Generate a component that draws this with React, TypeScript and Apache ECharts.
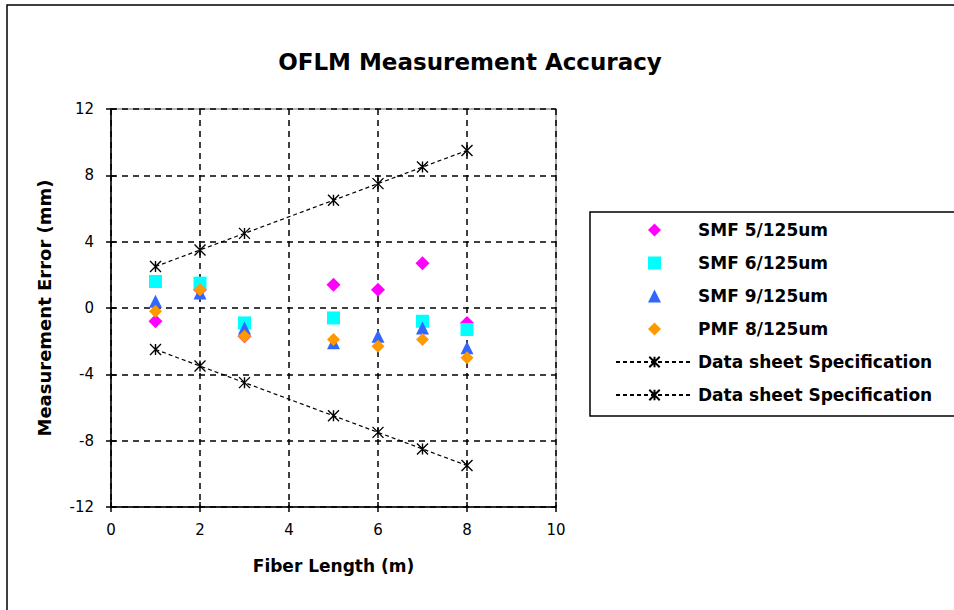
import React, { useEffect, useRef } from "react";
import * as echarts from "echarts";

const lengths = [1, 2, 3, 5, 6, 7, 8];
const smf5 = [-0.8, 1.1, -1.7, 1.4, 1.1, 2.7, -0.9];
const smf6 = [1.6, 1.5, -0.9, -0.6, null, -0.8, -1.3];
const smf9 = [0.4, 0.9, -1.2, -2.1, -1.7, -1.2, -2.4];
const pmf8 = [-0.2, 1.1, -1.7, -1.9, -2.3, -1.9, -3.0];
const specUpper = [2.5, 3.5, 4.5, 6.5, 7.5, 8.5, 9.5];
const specLower = [-2.5, -3.5, -4.5, -6.5, -7.5, -8.5, -9.5];
const specLabel = "Data sheet Specification";
const seriesNames = ["SMF 5/125um", "SMF 6/125um", "SMF 9/125um", "PMF 8/125um", "spec-upper", "spec-lower"];
const xTicks = { min: 0, max: 10, interval: 2 };
const yTicks = { min: -12, max: 12, interval: 4 };

const FONT = "DejaVu Sans";
const STAR = "path://M0 0L10 10M10 0L0 10M5 0L5 10";
const DIAMOND = "path://M5 0L10 5L5 10L0 5Z";
const SQUARE = "path://M0 0L10 0L10 10L0 10Z";
const TRIANGLE = "path://M5 0L10 10L0 10Z";

function pairs(ys: (number | null)[]) {
  return lengths.map((x, i) => (ys[i] == null ? null : [x, ys[i]])).filter((p) => p !== null);
}

export default function App() {
  const ref = useRef<HTMLDivElement>(null);
  useEffect(() => {
    document.body.style.margin = "0";
    const chart = echarts.init(ref.current!, null, { renderer: "svg" });
    const scatter = (name: string, ys: (number | null)[], symbol: string, size: number, color: string) => ({
      name,
      type: "scatter",
      data: pairs(ys),
      symbol,
      symbolSize: size,
      symbolKeepAspect: true,
      itemStyle: { color, opacity: 1 },
      z: 3,
    });
    const spec = (name: string, ys: number[]) => ({
      name,
      type: "line",
      data: pairs(ys),
      symbol: STAR,
      symbolSize: 11,
      showSymbol: true,
      itemStyle: { color: "none", borderColor: "#000", borderWidth: 1.4 },
      lineStyle: { color: "#000", width: 1.2, type: [4, 3] },
      z: 2,
    });
    chart.setOption({
      animation: false,
      backgroundColor: "#fff",
      title: {
        text: "OFLM Measurement Accuracy",
        left: 465,
        top: 45,
        textAlign: "center",
        textStyle: { fontFamily: FONT, fontSize: 23, fontWeight: "bold", color: "#000" },
      },
      graphic: [
        { type: "rect", shape: { x: 7, y: 5, width: 960, height: 620 }, style: { fill: "none", stroke: "#000", lineWidth: 1.5 }, z: 0 },
        { type: "rect", shape: { x: 590, y: 212, width: 380, height: 204 }, style: { fill: "#fff", stroke: "#000", lineWidth: 1.5 }, z: 0 },
      ],
      grid: { left: 111, right: 398, top: 109, bottom: 103, show: true, borderColor: "#999", borderWidth: 1.5, backgroundColor: "#fff" },
      legend: {
        orient: "vertical",
        left: 615,
        top: 220,
        padding: 0,
        itemWidth: 77,
        itemHeight: 13,
        itemGap: 13,
        symbolKeepAspect: true,
        data: seriesNames,
        formatter: (name: string) => (name.startsWith("spec") ? specLabel : name),
        textStyle: { fontFamily: FONT, fontSize: 17, fontWeight: "bold", color: "#000", lineHeight: 20 },
        selectedMode: false,
      },
      xAxis: [
        {
          type: "value",
          ...xTicks,
          name: "Fiber Length (m)",
          nameLocation: "middle",
          nameGap: 50,
          nameTextStyle: { fontFamily: FONT, fontSize: 17, fontWeight: "bold", color: "#000" },
          axisLine: { show: true, onZero: false, lineStyle: { color: "#000", width: 1.5 } },
          axisTick: { show: true, inside: false, length: 5, lineStyle: { color: "#000", width: 1.5 } },
          axisLabel: { fontFamily: FONT, fontSize: 15, color: "#000", margin: 15 },
          splitLine: { show: true, lineStyle: { color: "#000", width: 1.5, type: [6, 5] } },
        },
        {
          type: "value",
          ...xTicks,
          position: "bottom",
          axisLine: { show: false, onZero: false },
          axisTick: { show: true, inside: true, length: 5, lineStyle: { color: "#000", width: 1.5 } },
          axisLabel: { show: false },
          splitLine: { show: false },
        },
      ],
      yAxis: [
        {
          type: "value",
          ...yTicks,
          name: "Measurement Error (mm)",
          nameLocation: "middle",
          nameGap: 58,
          nameTextStyle: { fontFamily: FONT, fontSize: 18, fontWeight: "bold", color: "#000" },
          axisLine: { show: true, onZero: false, lineStyle: { color: "#000", width: 1.5 } },
          axisTick: { show: true, inside: false, length: 5, lineStyle: { color: "#000", width: 1.5 } },
          axisLabel: { fontFamily: FONT, fontSize: 15, color: "#000", margin: 17 },
          splitLine: { show: true, lineStyle: { color: "#000", width: 1.5, type: [6, 5] } },
        },
        {
          type: "value",
          ...yTicks,
          position: "left",
          axisLine: { show: false, onZero: false },
          axisTick: { show: true, inside: true, length: 5, lineStyle: { color: "#000", width: 1.5 } },
          axisLabel: { show: false },
          splitLine: { show: false },
        },
      ],
      series: [
        scatter(seriesNames[0], smf5, DIAMOND, 14, "#FF00FF"),
        scatter(seriesNames[1], smf6, SQUARE, 13, "#00FFFF"),
        scatter(seriesNames[2], smf9, TRIANGLE, 13, "#3366FF"),
        scatter(seriesNames[3], pmf8, DIAMOND, 13, "#FF9900"),
        spec(seriesNames[4], specUpper),
        spec(seriesNames[5], specLower),
      ],
    });
    return () => chart.dispose();
  }, []);
  return <div ref={ref} style={{ width: 954, height: 610 }} />;
}
